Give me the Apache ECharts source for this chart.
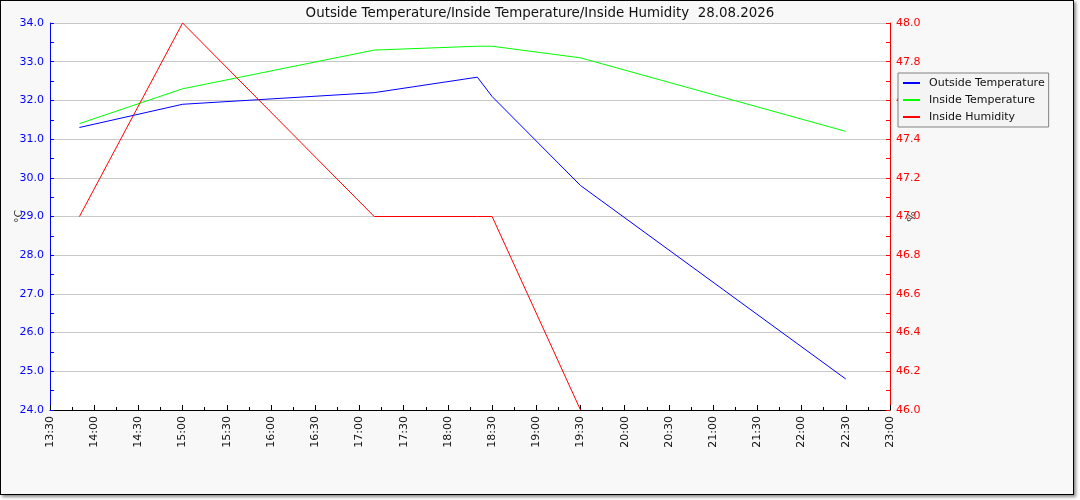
<!DOCTYPE html>
<html>
<head>
    <meta charset="UTF-8">
    <title>Outside Temperature/Inside Temperature/Inside Humidity</title>
    <style>
        body { margin: 0; background: #ffffff; }
        #frame {
            position: absolute; left: 0; top: 0;
            width: 1072px; height: 493px;
            border: 1px solid #000;
            background: #f8f8f8;
            box-shadow: 2px 2px 3px #888;
        }
        #chart {
            position: absolute; left: 0; top: 0;
            width: 1080px; height: 500px;
        }
    </style>
    <script src="https://cdn.jsdelivr.net/npm/echarts@6/dist/echarts.min.js"></script>
</head>
<body>
    <div id="frame"></div>
    <div id="chart"></div>
<script>
    // readings of the day
    var times = ['13:50', '15:00', '17:10', '18:20', '18:30', '19:30', '22:30'];
    var outsideTemp = [31.3, 31.9, 32.2, 32.6, 32.1, 29.8, 24.8];
    var insideTemp = [31.4, 32.3, 33.3, 33.4, 33.4, 33.1, 31.2];
    var insideHumidity = [47.0, 48.0, 47.0, 47.0, 47.0, 46.0, null];

    function toMin(t) {
        var p = t.split(':');
        return +p[0] * 60 + +p[1];
    }
    function toLabel(m) {
        var h = Math.floor(m / 60), mm = m % 60;
        return (h < 10 ? '0' : '') + h + ':' + (mm < 10 ? '0' : '') + mm;
    }
    function pairs(values) {
        var out = [];
        for (var i = 0; i < times.length; i++) {
            if (values[i] !== null) out.push([toMin(times[i]), values[i]]);
        }
        return out;
    }

    var font = 'DejaVu Sans';
    var chart = echarts.init(document.getElementById('chart'));
    var option = {
        backgroundColor: 'transparent',
        animation: false,
        title: {
            text: 'Outside Temperature/Inside Temperature/Inside Humidity  28.08.2026',
            left: 'center',
            top: 2,
            textStyle: { fontFamily: font, fontSize: 13.4, fontWeight: 'normal', color: '#111' }
        },
        legend: {
            orient: 'vertical',
            left: 898,
            top: 73,
            padding: [3, 4, 3, 5],
            itemGap: 3,
            itemWidth: 17,
            itemHeight: 2,
            icon: 'rect',
            backgroundColor: '#f4f4f4',
            borderColor: '#808080',
            borderWidth: 1,
            textStyle: { fontFamily: font, fontSize: 11, color: '#111', lineHeight: 14, padding: [0, 0, 0, 4] },
            data: ['Outside Temperature', 'Inside Temperature', 'Inside Humidity']
        },
        grid: {
            left: 50, right: 190, top: 23, bottom: 90,
            containLabel: false, outerBoundsMode: 'none',
            backgroundColor: '#fff', show: true, borderWidth: 0
        },
        xAxis: {
            type: 'value',
            min: 810,
            max: 1380,
            interval: 30,
            axisLine: { lineStyle: { color: '#000' } },
            axisTick: { inside: true, length: 5, lineStyle: { color: '#000' } },
            minorTick: { show: true, splitNumber: 2, length: 3, lineStyle: { color: '#000' } },
            splitLine: { show: false },
            axisLabel: {
                rotate: 90, margin: 6, color: '#111', fontFamily: font, fontSize: 11,
                formatter: function (v) { return toLabel(v); }
            }
        },
        yAxis: [{
            type: 'value',
            min: 24,
            max: 34,
            interval: 1,
            position: 'left',
            name: '°C',
            nameLocation: 'middle',
            nameRotate: 90,
            nameGap: 25,
            nameMoveOverlap: false,
            nameTextStyle: { fontFamily: font, fontSize: 11, color: '#333' },
            axisLine: { show: true, lineStyle: { color: '#0000ff' } },
            axisTick: { inside: true, length: 4, lineStyle: { color: '#0000ff' } },
            minorTick: { show: true, splitNumber: 2, length: 4, lineStyle: { color: '#0000ff' } },
            splitLine: { show: true, lineStyle: { color: '#c8c8c8' } },
            axisLabel: {
                margin: 6, color: '#0000ff', fontFamily: font, fontSize: 11,
                formatter: function (v) { return v.toFixed(1); }
            }
        }, {
            type: 'value',
            min: 46,
            max: 48,
            interval: 0.2,
            position: 'right',
            name: '%',
            nameLocation: 'middle',
            nameRotate: 90,
            nameGap: 17,
            nameMoveOverlap: false,
            nameTextStyle: { fontFamily: font, fontSize: 11, color: '#333' },
            axisLine: { show: true, lineStyle: { color: '#ff0000' } },
            axisTick: { inside: true, length: 4, lineStyle: { color: '#ff0000' } },
            minorTick: { show: true, splitNumber: 2, length: 4, lineStyle: { color: '#ff0000' } },
            splitLine: { show: false },
            axisLabel: {
                margin: 6, color: '#ff0000', fontFamily: font, fontSize: 11,
                formatter: function (v) { return v.toFixed(1); }
            }
        }],
        series: [{
            name: 'Outside Temperature',
            type: 'line',
            yAxisIndex: 0,
            showSymbol: false,
            symbol: 'none',
            color: '#0000ff',
            lineStyle: { width: 1, color: '#0000ff' },
            data: pairs(outsideTemp)
        }, {
            name: 'Inside Temperature',
            type: 'line',
            yAxisIndex: 0,
            showSymbol: false,
            symbol: 'none',
            color: '#00ff00',
            lineStyle: { width: 1, color: '#00ff00' },
            data: pairs(insideTemp)
        }, {
            name: 'Inside Humidity',
            type: 'line',
            yAxisIndex: 1,
            showSymbol: false,
            symbol: 'none',
            color: '#ff0000',
            lineStyle: { width: 1, color: '#ff0000' },
            data: pairs(insideHumidity)
        }]
    };
    chart.setOption(option);
</script>
</body>
</html>
